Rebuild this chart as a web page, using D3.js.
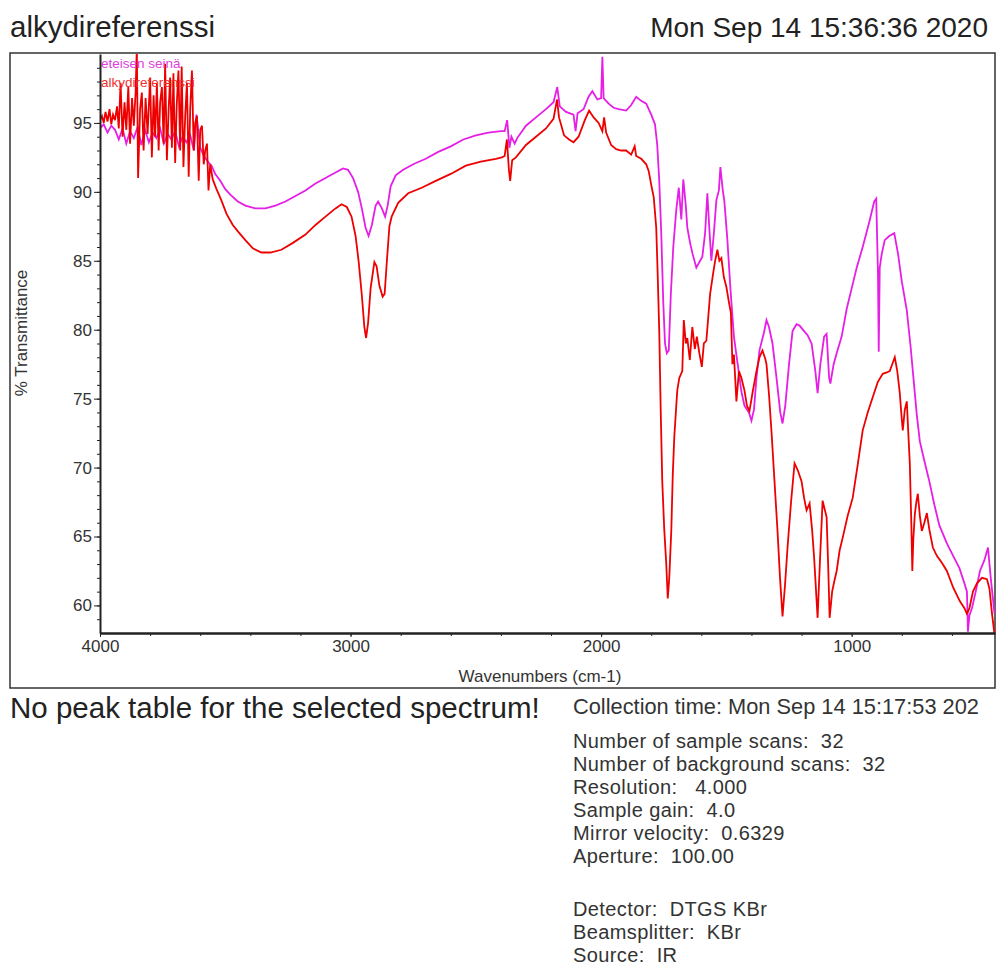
<!DOCTYPE html>
<html>
<head>
<meta charset="utf-8">
<script src="https://cdn.jsdelivr.net/npm/d3@7"></script>
<style>
  body { margin: 0; background: #fff; }
  svg { font-family: "Liberation Sans", Arial, sans-serif; }
  .axis path, .axis line { stroke: #222; }
  .axis text { fill: #333; font-size: 17px; }
</style>
</head>
<body>
<svg id="chart" width="997" height="969"></svg>
<script>
"use strict";

// eteisen seinä (magenta)
var wnA = [4000,3985,3970,3955,3940,3925,3910,3895,3880,3865,3850,3835,3820,3805,3790,3775,3760,3745,3730,3715,3700,3685,3670,3655,3640,3625,3615,3600,3585,3570,3555,3540,3520,3500,3480,3450,3420,3380,3340,3300,3260,3220,3180,3140,3100,3060,3030,3010,2990,2970,2955,2940,2928,2915,2900,2890,2875,2862,2852,2840,2820,2790,2750,2700,2650,2600,2550,2500,2450,2400,2385,2375,2366,2358,2345,2335,2300,2260,2220,2190,2175,2165,2140,2110,2102,2094,2070,2050,2035,2015,2000,1995,1990,1970,1950,1930,1900,1880,1860,1840,1820,1800,1785,1776,1768,1760,1752,1745,1738,1730,1722,1712,1700,1690,1680,1672,1662,1656,1645,1635,1620,1605,1596,1585,1576,1568,1560,1550,1540,1530,1524,1515,1508,1496,1484,1470,1455,1440,1428,1410,1400,1390,1380,1368,1350,1340,1330,1316,1300,1285,1276,1265,1250,1236,1220,1208,1190,1176,1160,1145,1136,1125,1110,1100,1090,1085,1072,1060,1040,1020,1000,980,956,930,910,902,895,892,888,880,868,850,830,815,800,780,765,756,740,728,710,690,670,650,620,595,570,550,540,536,530,520,505,488,470,456,445,438,430];
var tA = [94.6,94.9,94.3,94.8,94.5,93.8,94.6,93.5,94.4,93.9,94.7,93.4,94.5,93.6,94.3,93.9,94.6,93.5,94.2,93.8,94.4,93.3,94.0,93.6,94.1,93.0,95.6,93.2,92.6,92.2,91.9,91.3,90.8,90.2,89.8,89.3,89.0,88.8,88.8,89.0,89.3,89.7,90.1,90.6,91.0,91.4,91.7,91.6,91.0,90.0,88.8,87.4,86.8,87.6,89.0,89.3,88.8,88.2,89.0,90.4,91.2,91.6,92.0,92.4,92.9,93.3,93.8,94.1,94.3,94.4,94.4,95.2,93.2,94.0,93.5,93.9,94.8,95.4,96.0,96.5,97.6,96.2,95.8,95.6,94.4,95.7,96.0,96.9,97.3,96.7,96.8,99.8,96.8,96.4,96.1,96.0,95.9,96.3,96.9,96.6,96.4,95.6,94.9,93.4,90.8,87.0,82.0,79.0,78.3,78.5,82.5,86.0,88.7,90.3,88.0,90.9,89.0,87.4,86.3,85.5,84.5,85.0,85.3,87.0,89.9,87.3,85.0,87.0,89.4,90.1,91.8,90.2,89.3,86.5,83.0,79.5,77.5,75.5,74.5,74.0,73.4,74.2,76.5,78.5,79.8,80.7,80.2,79.0,76.5,74.0,73.2,74.5,77.5,79.9,80.4,80.3,79.9,79.6,79.0,77.0,75.4,77.5,79.5,79.7,76.5,76.1,77.5,78.3,79.5,81.5,83.0,84.5,86.0,87.8,89.3,89.5,84.0,78.4,84.5,85.5,86.5,86.8,87.0,85.5,83.5,81.4,78.8,77.0,73.8,71.9,70.5,69.0,67.3,65.8,64.5,63.6,62.7,61.6,61.0,58.1,59.3,59.8,61.0,62.5,63.3,64.2,62.0,60.8,59.4];

// alkydireferenssi (red)
var wnB = [4000,3992,3985,3978,3970,3962,3955,3948,3940,3932,3925,3918,3910,3902,3895,3887,3880,3872,3865,3858,3853,3848,3840,3833,3826,3818,3810,3800,3793,3786,3780,3773,3766,3760,3753,3746,3740,3733,3726,3720,3713,3707,3700,3694,3687,3680,3674,3667,3660,3653,3646,3640,3633,3626,3620,3613,3606,3600,3593,3586,3580,3573,3567,3560,3550,3535,3516,3495,3470,3448,3420,3390,3356,3320,3276,3230,3180,3140,3100,3060,3036,3015,2996,2980,2968,2955,2945,2938,2930,2920,2905,2896,2885,2872,2864,2855,2845,2836,2810,2770,2716,2660,2600,2540,2480,2420,2396,2385,2376,2368,2363,2355,2340,2300,2260,2220,2190,2176,2168,2148,2128,2110,2090,2065,2048,2030,2010,1995,1988,1980,1960,1940,1920,1900,1880,1866,1860,1840,1820,1810,1800,1790,1780,1775,1768,1762,1756,1748,1740,1734,1728,1720,1714,1708,1700,1696,1688,1676,1670,1662,1656,1646,1636,1626,1618,1608,1598,1590,1580,1572,1565,1552,1545,1536,1528,1520,1510,1500,1490,1482,1476,1470,1460,1450,1440,1428,1418,1408,1395,1380,1368,1356,1345,1340,1330,1320,1308,1296,1286,1276,1266,1256,1242,1228,1215,1200,1190,1180,1168,1158,1150,1136,1126,1116,1108,1100,1094,1088,1078,1070,1060,1048,1036,1016,996,976,956,936,916,896,876,860,848,836,828,818,808,800,796,788,780,774,768,762,758,754,748,742,736,728,720,710,700,690,676,660,640,620,595,568,550,540,530,516,500,480,460,450,440,430];
var tB = [95.2,95.5,95.0,95.8,95.1,96.0,94.9,95.6,95.2,96.2,94.6,97.9,94.0,96.5,94.5,97.6,93.5,96.8,94.8,97.2,100.5,91.0,96.0,97.2,93.0,96.8,94.2,98.3,92.5,97.0,94.0,97.9,93.0,96.5,97.6,93.5,99.3,92.3,96.0,98.3,93.2,98.6,92.1,96.2,98.8,93.0,99.1,91.8,95.5,97.9,91.1,96.0,98.8,93.0,95.0,95.5,90.8,94.5,94.8,92.0,93.0,93.5,90.1,92.0,90.9,90.2,89.4,88.4,87.6,87.1,86.5,85.9,85.6,85.6,85.8,86.3,86.9,87.6,88.2,88.8,89.1,88.9,88.2,86.8,85.0,82.5,80.2,79.4,80.5,83.0,84.9,84.6,83.2,82.4,82.6,85.0,87.5,88.2,89.2,89.9,90.3,90.8,91.3,91.9,92.2,92.4,92.5,92.6,93.8,91.6,90.8,92.3,92.5,93.4,94.0,94.6,95.3,96.7,95.4,94.1,93.8,93.6,94.0,95.2,95.9,95.4,95.0,94.4,95.4,94.3,93.4,93.1,93.0,93.0,92.7,93.3,92.6,92.4,92.0,91.5,90.5,89.6,87.4,84.5,79.9,74.0,69.0,65.5,63.0,60.5,62.0,65.4,69.5,72.2,74.5,75.6,76.5,77.0,80.7,79.0,79.4,77.8,80.2,78.6,79.5,78.3,77.3,79.0,79.2,81.0,82.6,84.2,85.0,85.8,85.0,85.2,83.8,83.1,82.0,81.2,77.5,78.2,74.8,77.0,76.5,75.6,74.5,74.1,75.5,77.0,78.0,78.5,77.9,77.5,75.3,72.6,69.0,65.4,62.0,59.2,61.5,64.2,67.5,70.3,69.8,69.0,67.8,66.9,67.4,65.5,63.5,59.1,63.5,67.6,67.0,66.4,63.0,59.1,61.0,61.7,62.5,64.0,64.9,66.5,67.8,70.2,72.7,74.0,75.1,76.2,76.8,76.9,77.0,77.6,78.0,77.0,75.4,73.5,72.7,74.2,74.8,72.5,70.3,66.0,62.5,64.8,66.6,67.5,68.1,66.5,65.4,66.0,66.7,65.5,64.2,63.6,63.1,62.5,61.3,60.3,59.8,59.4,59.8,61.0,61.6,62.0,61.9,61.2,59.4,57.9];

var yMajor = [60, 65, 70, 75, 80, 85, 90, 95];
var xMajor = [4000, 3000, 2000, 1000];

var infoLines = [
  ["Number of sample scans:  32", 748],
  ["Number of background scans:  32", 771],
  ["Resolution:   4.000", 794],
  ["Sample gain:  4.0", 817],
  ["Mirror velocity:  0.6329", 840],
  ["Aperture:  100.00", 863],
  ["Detector:  DTGS KBr", 916],
  ["Beamsplitter:  KBr", 939],
  ["Source:  IR", 962]
];

var svg = d3.select("#chart");
var padL = 100, padR = 995, padT = 54, padB = 633;

var x = d3.scaleLinear().domain([4000, 428]).range([padL, padR]);
var y = d3.scaleLinear().domain([58, 100]).range([padB, padT]);

// outer frame
svg.append("rect")
    .attr("x", 10).attr("y", 53)
    .attr("width", 985).attr("height", 635)
    .attr("fill", "none").attr("stroke", "#333").attr("stroke-width", 1.5);

svg.append("clipPath").attr("id", "clip")
  .append("rect")
    .attr("x", padL).attr("y", padT)
    .attr("width", padR - padL).attr("height", padB - padT);

var line = d3.line()
    .x(function(d) { return x(d[0]); })
    .y(function(d) { return y(d[1]); });

var seriesA = wnA.map(function(w, i) { return [w, tA[i]]; });
var seriesB = wnB.map(function(w, i) { return [w, tB[i]]; });

var plot = svg.append("g").attr("clip-path", "url(#clip)");
plot.append("path").datum(seriesA)
    .attr("d", line)
    .attr("fill", "none").attr("stroke", "#e61ee6").attr("stroke-width", 1.8);
plot.append("path").datum(seriesB)
    .attr("d", line)
    .attr("fill", "none").attr("stroke", "#ee0000").attr("stroke-width", 1.8);

// legend labels inside the plot
svg.append("text").attr("x", 101).attr("y", 68)
    .style("font-size", "13.5px").attr("fill", "#e040e0").text("eteisen seinä");
svg.append("text").attr("x", 101).attr("y", 87)
    .style("font-size", "13.5px").attr("fill", "#ee3030").text("alkydireferenssi");

// y axis
svg.append("g").attr("class", "axis")
    .attr("transform", "translate(" + padL + ",0)")
    .call(d3.axisLeft(y).tickValues(d3.range(59, 100, 1)).tickSize(3).tickSizeOuter(0).tickFormat(""))
    .call(function(g) { g.select(".domain").remove(); });
svg.append("g").attr("class", "axis")
    .attr("transform", "translate(" + padL + ",0)")
    .call(d3.axisLeft(y).tickValues(yMajor).tickSize(6).tickPadding(2).tickSizeOuter(0))
    .call(function(g) { g.select(".domain").attr("stroke-width", 2); });

// x axis
svg.append("g").attr("class", "axis")
    .attr("transform", "translate(0," + padB + ")")
    .call(d3.axisBottom(x).tickValues(d3.range(3800, 428, -200)).tickSize(3).tickFormat(""))
    .call(function(g) { g.select(".domain").remove(); });
svg.append("g").attr("class", "axis")
    .attr("transform", "translate(0," + padB + ")")
    .call(d3.axisBottom(x).tickValues(xMajor).tickSize(4).tickPadding(3).tickSizeOuter(0).tickFormat(d3.format("d")))
    .call(function(g) { g.select(".domain").attr("stroke-width", 2.5); });

svg.append("text")
    .attr("x", 540).attr("y", 682)
    .attr("text-anchor", "middle")
    .style("font-size", "17px").attr("fill", "#333")
    .text("Wavenumbers (cm-1)");

svg.append("text")
    .attr("transform", "translate(27,333) rotate(-90)")
    .attr("text-anchor", "middle")
    .style("font-size", "17px").attr("fill", "#333")
    .text("% Transmittance");

// header
svg.append("text").attr("x", 10).attr("y", 37)
    .style("font-size", "29.5px").attr("fill", "#222")
    .text("alkydireferenssi");
svg.append("text").attr("x", 988).attr("y", 37)
    .attr("text-anchor", "end")
    .style("font-size", "28px").attr("fill", "#222")
    .text("Mon Sep 14 15:36:36 2020");

// footer
svg.append("text").attr("x", 10).attr("y", 718)
    .style("font-size", "29.5px").attr("fill", "#222")
    .text("No peak table for the selected spectrum!");
svg.append("text").attr("x", 573).attr("y", 714)
    .style("font-size", "21.8px").attr("fill", "#333")
    .text("Collection time: Mon Sep 14 15:17:53 202");

svg.selectAll("text.info")
    .data(infoLines)
  .enter().append("text")
    .attr("class", "info")
    .attr("x", 573)
    .attr("y", function(d) { return d[1]; })
    .attr("xml:space", "preserve")
    .style("white-space", "pre")
    .style("font-size", "20px")
    .style("letter-spacing", "0.4px")
    .attr("fill", "#333")
    .text(function(d) { return d[0]; });
</script>
</body>
</html>
